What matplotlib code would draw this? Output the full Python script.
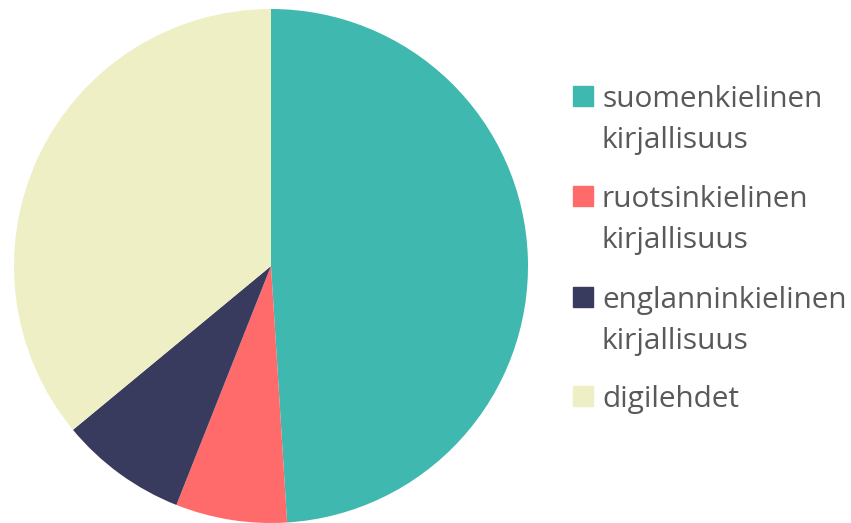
import matplotlib
matplotlib.use('Agg')
import matplotlib.pyplot as plt
from matplotlib.patches import Rectangle

# Daten
kategorien = ['suomenkielinen\nkirjallisuus', 'ruotsinkielinen\nkirjallisuus',
              'englanninkielinen\nkirjallisuus', 'digilehdet']
anteile = [49, 7, 8, 36]
farben = ['#3fb8af', '#ff6b6b', '#383b5e', '#efefc6']

plt.rcParams['font.family'] = ['Open Sans', 'DejaVu Sans']

fig = plt.figure(figsize=(8.51, 5.23), dpi=100)
ax = fig.add_axes([14 / 851, 0.0, 514 / 851, 514 / 523])
ax.pie(anteile, colors=farben, startangle=90, counterclock=False,
       wedgeprops={'linewidth': 0})
ax.set_xlim(-1, 1)
ax.set_ylim(-1, 1)
ax.set_aspect('equal')
ax.axis('off')

# Legende von Hand zeichnen
W, H = 851, 523
legende_y = [86, 186, 287, 386]  # Oberkante der Quadrate in Pixel
zeilenabstand = 41
for i in range(len(kategorien)):
    y = legende_y[i]
    fig.patches.append(Rectangle((573 / W, 1 - (y + 20) / H), 20 / W, 20 / H,
                                 transform=fig.transFigure, color=farben[i]))
    # jede Zeile einzeln auf ihre Grundlinie setzen
    for k, zeile in enumerate(kategorien[i].split('\n')):
        fig.text(602 / W, 1 - (y + 21 + k * zeilenabstand) / H, zeile,
                 fontsize=21.4, color='#595959', va='baseline', ha='left')

fig.savefig('out.png', dpi=100)
